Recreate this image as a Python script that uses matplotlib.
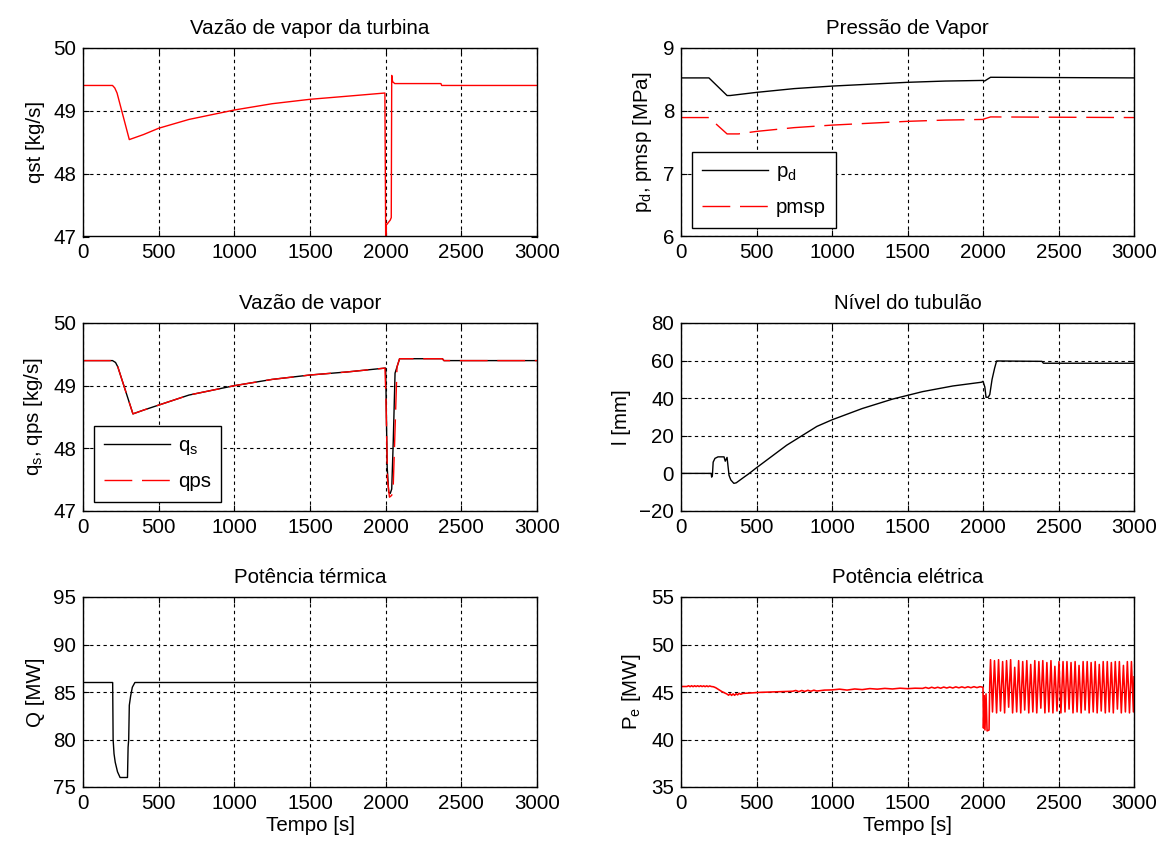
import matplotlib
matplotlib.use('Agg')
import matplotlib.pyplot as plt

FS = 14.8
plt.rcParams['font.family'] = ['Liberation Sans', 'DejaVu Sans']
plt.rcParams['font.size'] = FS
plt.rcParams['mathtext.fontset'] = 'custom'
plt.rcParams['mathtext.rm'] = 'Liberation Sans'
plt.rcParams['mathtext.it'] = 'Liberation Sans'
plt.rcParams['lines.scale_dashes'] = False

# ---------------- data ----------------
x_ticks = [0, 500, 1000, 1500, 2000, 2500, 3000]

# Turbine steam flow qst [kg/s]
qst_t = [0, 195, 210, 225, 306, 400, 500, 700, 1000, 1250, 1500, 1750, 1995,
         2000, 2004, 2030, 2037, 2040, 2046, 2060, 2365, 2370, 3000]
qst_v = [49.40, 49.40, 49.36, 49.28, 48.54, 48.62, 48.72, 48.86, 49.01, 49.11, 49.18, 49.23, 49.28,
         47.00, 47.18, 47.26, 47.30, 49.56, 49.46, 49.43, 49.43, 49.40, 49.40]

# Steam pressure
pd_t = [0, 185, 305, 325, 500, 750, 1000, 1250, 1500, 1750, 2000, 2010, 2050, 3000]
pd_v = [8.52, 8.52, 8.24, 8.24, 8.29, 8.35, 8.39, 8.42, 8.45, 8.47, 8.48, 8.47, 8.53, 8.52]
pmsp_t = [0, 185, 305, 380, 500, 750, 1000, 1250, 1500, 1750, 2000, 2010, 2050, 3000]
pmsp_v = [7.89, 7.89, 7.63, 7.63, 7.67, 7.73, 7.77, 7.80, 7.83, 7.85, 7.86, 7.87, 7.90, 7.89]

# Steam flow qs / qps
qs_t = [0, 195, 215, 230, 330, 400, 500, 700, 1000, 1250, 1500, 1750, 1995,
        2000, 2010, 2020, 2030, 2040, 2050, 2062, 2075, 2092, 2375, 2385, 3000]
qs_v = [49.40, 49.40, 49.37, 49.30, 48.55, 48.61, 48.69, 48.85, 49.00, 49.10, 49.17, 49.22, 49.28,
        49.28, 47.70, 47.30, 47.28, 47.35, 48.10, 49.20, 49.30, 49.43, 49.43, 49.40, 49.40]
qps_t = [0, 195, 215, 230, 330, 400, 500, 700, 1000, 1250, 1500, 1750, 1995,
         2002, 2012, 2025, 2040, 2050, 2062, 2075, 2092, 2375, 2385, 3000]
qps_v = [49.40, 49.40, 49.37, 49.30, 48.55, 48.61, 48.69, 48.85, 49.00, 49.10, 49.17, 49.22, 49.28,
         48.80, 47.50, 47.22, 47.25, 47.40, 48.30, 49.30, 49.43, 49.43, 49.40, 49.40]

# Drum level l [mm]
lv_t = [0, 200, 203, 208, 213, 225, 245, 285, 293, 305, 318, 330, 350, 366, 400, 452, 500, 600,
        700, 800, 900, 1000, 1200, 1400, 1500, 1600, 1800, 1990, 2000, 2012, 2020, 2035, 2045,
        2060, 2077, 2090, 2100, 2390, 2400, 3000]
lv_v = [0, 0, -2, -1, 6, 8, 8.8, 8.8, 6.5, 8.5, -1, -3.5, -5.3, -5, -3, 0, 3, 9,
        15, 20, 25, 28.5, 34.5, 39.5, 41.5, 43.5, 46.5, 48.5, 49, 46, 40.5, 40.5, 42,
        50, 56, 59.8, 59.8, 59.6, 58.6, 58.6]

# Thermal power Q [MW]
Q_t = [0, 196, 199, 205, 213, 228, 245, 294, 298, 302, 306, 315, 326, 343, 3000]
Q_v = [86, 86, 80.0, 78.5, 77.6, 76.6, 76.0, 76.0, 79.2, 80.0, 83.6, 84.6, 85.5, 86, 86]

# Electric power Pe [MW]
pe_base_t = [0, 40, 50, 60, 70, 80, 90, 100, 110, 120, 130, 140, 150, 160, 170, 180, 190, 200,
             215, 230, 250, 270, 290, 305, 315, 325, 335, 345, 355, 365, 375, 385, 395, 410,
             440, 480, 520, 560, 600, 650, 700, 740, 760, 780, 800, 820, 840, 860, 880, 900,
             950, 1000, 1050, 1100, 1150, 1200, 1250, 1300, 1350, 1400, 1450, 1500, 1550, 1600,
             1620, 1640, 1660, 1680, 1700, 1720, 1740, 1760, 1780, 1800, 1820, 1840, 1860, 1880,
             1900, 1920, 1940, 1960, 1980, 2000]
pe_base_v = [45.58, 45.58, 45.66, 45.56, 45.66, 45.56, 45.66, 45.57, 45.66, 45.57, 45.66, 45.57,
             45.65, 45.56, 45.65, 45.56, 45.64, 45.58,
             45.55, 45.45, 45.25, 45.05, 44.90, 44.78, 44.66, 44.82, 44.64, 44.80, 44.65, 44.82,
             44.70, 44.86, 44.76, 44.85,
             44.88, 44.93, 44.96, 44.98, 45.00, 45.03, 45.06, 45.08, 45.16, 45.04, 45.16, 45.06,
             45.18, 45.08, 45.19, 45.10,
             45.20, 45.22, 45.30, 45.20, 45.32, 45.25, 45.36, 45.30, 45.38, 45.32, 45.40, 45.35,
             45.40, 45.38,
             45.48, 45.38, 45.50, 45.40, 45.50, 45.40, 45.52, 45.42, 45.52, 45.42, 45.54, 45.44,
             45.54, 45.44,
             45.55, 45.45, 45.56, 45.46, 45.56, 45.50]
pe_trans_t = [2003, 2008, 2013, 2020, 2027, 2040, 2045]
pe_trans_v = [41.2, 44.6, 41.0, 44.8, 40.9, 41.0, 46.0]
pe_osc_t = [2050, 2063, 2076, 2090, 2103, 2116, 2130, 2143, 2156, 2170, 2183, 2196,
            2210, 2223, 2236, 2250, 2263, 2276, 2290, 2303, 2316, 2330, 2343, 2356,
            2370, 2383, 2396, 2410, 2423, 2436, 2450, 2463, 2476, 2490, 2503, 2516,
            2530, 2543, 2556, 2570, 2583, 2596, 2610, 2623, 2636, 2650, 2663, 2676,
            2690, 2703, 2716, 2730, 2743, 2756, 2770, 2783, 2796, 2810, 2823, 2836,
            2850, 2863, 2876, 2890, 2903, 2916, 2930, 2943, 2956, 2970, 2983, 2996, 3000]
pe_osc_v = [48.4, 42.9, 48.3, 42.8, 48.4, 43.0, 48.2, 42.8, 48.3, 43.4, 48.4, 42.8,
            47.6, 42.9, 48.3, 42.8, 48.2, 43.1, 48.3, 42.8, 47.9, 42.9, 48.3, 42.8,
            48.2, 43.3, 48.3, 42.8, 48.1, 42.9, 48.3, 42.8, 47.7, 43.0, 48.2, 42.8,
            48.2, 42.9, 48.2, 43.2, 48.1, 42.8, 48.2, 42.9, 47.8, 42.8, 48.2, 43.1,
            48.2, 42.8, 48.1, 42.9, 48.2, 42.8, 47.9, 43.0, 48.2, 42.8, 48.2, 42.9,
            48.1, 42.8, 48.2, 43.2, 48.2, 42.8, 47.8, 42.9, 48.2, 42.8, 48.2, 42.9, 46.6]

pe_t = pe_base_t + pe_trans_t + pe_osc_t
pe_v = pe_base_v + pe_trans_v + pe_osc_v

# ---------------- figure ----------------
fig = plt.figure(figsize=(11.58, 8.43), dpi=100)
W, H = 1158.0, 843.0
cols = [(83, 537), (681, 1134)]
rows = [(47.7, 236.5), (323, 511), (597, 787)]

def make_ax(c, r):
    x0, x1 = cols[c]
    y0, y1 = rows[r]
    return fig.add_axes([x0 / W, 1 - y1 / H, (x1 - x0) / W, (y1 - y0) / H])

GRID = dict(color='k', linestyle=(0, (2.4, 2.4)), linewidth=0.8)
DASH = (0, (20, 7))
LW = 1.0

def style(ax, title, ylabel, ylim, yticks, xlabel=None):
    ax.set_xlim(0, 3000)
    ax.set_xticks(x_ticks)
    ax.set_ylim(*ylim)
    ax.set_yticks(yticks)
    ax.grid(True, **GRID)
    ax.set_axisbelow(True)
    ax.tick_params(direction='in', length=4, width=0.8, top=True, right=True,
                   labelsize=FS, pad=5)
    for s in ax.spines.values():
        s.set_linewidth(1.0)
        s.set_color('k')
    ax.set_title(title, fontsize=FS, pad=10)
    ax.set_ylabel(ylabel, fontsize=FS, labelpad=6)
    if xlabel:
        ax.set_xlabel(xlabel, fontsize=FS, labelpad=2)

def legend(ax, anchor):
    lg = ax.legend(loc='lower left', bbox_to_anchor=anchor, borderaxespad=0,
                   fancybox=False, edgecolor='k', framealpha=1, fontsize=FS,
                   handlelength=3.2, handletextpad=0.4, labelspacing=0.75, borderpad=0.5)
    lg.get_frame().set_linewidth(1.0)

ax1 = make_ax(0, 0)
ax1.plot(qst_t, qst_v, color='#ff0000', lw=LW)
style(ax1, 'Vazão de vapor da turbina', 'qst [kg/s]', (47, 50), [47, 48, 49, 50])

ax2 = make_ax(1, 0)
ax2.plot(pd_t, pd_v, color='k', lw=LW, label=r'p$_\mathregular{d}$')
ax2.plot(pmsp_t, pmsp_v, color='#ff0000', lw=LW, linestyle=DASH, label='pmsp')
style(ax2, 'Pressão de Vapor', r'p$_\mathregular{d}$, pmsp [MPa]', (6, 9), [6, 7, 8, 9])
legend(ax2, (0.024, 0.047))

ax3 = make_ax(0, 1)
ax3.plot(qs_t, qs_v, color='k', lw=LW, label=r'q$_\mathregular{s}$')
ax3.plot(qps_t, qps_v, color='#ff0000', lw=LW, linestyle=DASH, label='qps')
style(ax3, 'Vazão de vapor', r'q$_\mathregular{s}$, qps [kg/s]', (47, 50), [47, 48, 49, 50])
legend(ax3, (0.024, 0.05))

ax4 = make_ax(1, 1)
ax4.plot(lv_t, lv_v, color='k', lw=LW)
style(ax4, 'Nível do tubulão', 'l [mm]', (-20, 80), [-20, 0, 20, 40, 60, 80])

ax5 = make_ax(0, 2)
ax5.plot(Q_t, Q_v, color='k', lw=LW)
style(ax5, 'Potência térmica', 'Q [MW]', (75, 95), [75, 80, 85, 90, 95], xlabel='Tempo [s]')

ax6 = make_ax(1, 2)
ax6.plot(pe_t, pe_v, color='#ff0000', lw=1.15)
style(ax6, 'Potência elétrica', r'P$_\mathregular{e}$ [MW]', (35, 55), [35, 40, 45, 50, 55],
      xlabel='Tempo [s]')

fig.savefig('out.png', dpi=100, facecolor='white')
